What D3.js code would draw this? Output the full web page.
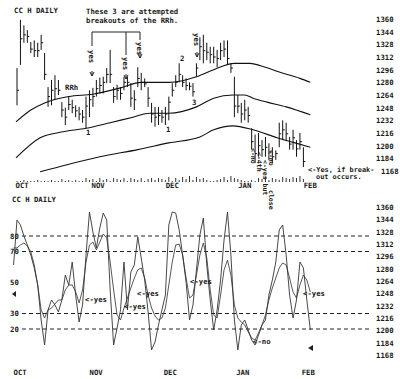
<!DOCTYPE html>
<html><head><meta charset="utf-8">
<script src="https://cdn.jsdelivr.net/npm/d3@7"></script>
<style>
body{margin:0;background:#fff}
svg{display:block}
text{font-family:"DejaVu Sans Mono","Liberation Mono",monospace;font-weight:bold;fill:#1a1a1a;font-size:7.3px}
</style>
</head><body><svg id="c" width="400" height="379"></svg>
<script>
// ---- data ----
const title = "CC H DAILY";
const months = ["OCT","NOV","DEC","JAN","FEB"];
const monthIdx = [1.5, 23.5, 45, 66, 85];
const priceTicks = [1360,1344,1328,1312,1296,1280,1264,1248,1232,1216,1200,1184,1168];
const oscTicks = [80,70,50,30,20];
const oscDashed = [80,70,30,20];

const highs = [1298,1359,1352,1346,1331,1333,1330,1340,1317,1274,1283,1289,1283,1255,1248,1262,1258,1251,1249,1245,1262,1270,1273,1283,1286,1287,1298,1321,1274,1277,1274,1287,1287,1279,1270,1299,1292,1285,1274,1254,1249,1249,1245,1249,1262,1279,1289,1304,1289,1285,1280,1279,1304,1337,1340,1330,1325,1325,1321,1330,1333,1333,1304,1287,1264,1254,1258,1249,1222,1214,1216,1207,1211,1203,1198,1194,1229,1232,1229,1211,1220,1207,1216,1198];
const lows = [1251,1302,1330,1330,1317,1312,1312,1321,1283,1249,1251,1258,1264,1236,1226,1245,1241,1236,1232,1229,1222,1236,1249,1262,1266,1266,1279,1279,1254,1258,1258,1270,1274,1249,1245,1274,1270,1274,1249,1229,1224,1226,1229,1226,1232,1262,1274,1280,1274,1270,1270,1262,1287,1308,1304,1308,1304,1304,1299,1308,1312,1302,1292,1236,1241,1229,1232,1229,1195,1178,1186,1186,1186,1182,1178,1182,1198,1207,1207,1195,1195,1186,1195,1173];
const closes = [1270,1335,1340,1338,1322,1320,1320,1330,1290,1262,1270,1272,1270,1245,1236,1252,1248,1244,1240,1236,1250,1258,1262,1272,1276,1280,1290,1290,1262,1270,1266,1280,1280,1260,1258,1285,1280,1278,1260,1240,1236,1238,1236,1240,1255,1270,1280,1290,1280,1276,1275,1268,1298,1325,1320,1318,1315,1312,1310,1320,1322,1310,1298,1250,1250,1240,1245,1238,1205,1190,1200,1195,1198,1192,1186,1190,1215,1220,1215,1202,1210,1196,1205,1180];
const volume = [1,1,2,1,1,1,2,1,1,1,2,1,1,3,1,2,1,2,1,1,4,2,3,1,4,2,3,1,4,3,2,4,1,4,3,2,4,1,3,4,2,4,3,2,5,1,4,2,5,3,6,2,5,3,4,2,1,1,2,3,5,2,6,4,3,2,1,1,2,1,4,3,5,2,4,3,2,5,4,3,5,4,6,3];

const maUpperIdx = [-0.3,4,8,15,22,30,36,44,52,57,63,67.5,72,76,82,85];
const maUpper    = [1230,1245,1254,1262,1265,1273,1280,1280,1287,1296,1304,1304,1299,1293,1285,1280];
const maMidIdx   = [-0.3,6.7,12.5,20,27,33.6,38.5,44,52,57,62.6,66,68.4,72.5,78,85];
const maMid      = [1184.5,1210,1217,1222,1229,1236,1241,1241,1249,1260,1264,1264,1260,1255,1249,1239];
const maLowIdx   = [6.7,14.5,24,35,44,53,57,62.6,68.4,75.4,80.6,85];
const maLow      = [1167,1176,1186,1195,1203.5,1211,1220,1225,1220,1210,1203.5,1198];

const oscStart = -1;
const oscFast = [61.3,90.3,87.1,80,74.2,67.7,59.4,48.4,25.8,9.7,32.3,38.7,35.5,31,38.7,54.8,48.4,63.2,41.9,24.5,35.5,67.7,95.5,82.6,72.3,85.2,94.8,90.3,45.2,9.7,20.6,32.3,63.2,32.3,56.8,61.3,79.4,65.8,51.6,31,6.5,11.6,22.6,32.3,41.9,87.1,95.5,94.8,83.9,67.7,50.3,25.8,35.5,58.1,80.6,91.6,61.3,38.7,19.4,32.3,51.6,77.4,95.5,67.7,25.8,6.5,22.6,25.8,19.4,12.9,9.7,16.1,22.6,25.8,41.9,51.6,63.2,83.9,87.1,67.7,41.9,27.1,38.7,63.2,59.4,38.7,19.4];
const oscSlow = [72.3,72.3,74.2,75.5,73.5,69.7,61.3,48.4,32.3,27.1,32.3,33.5,36.1,38.7,38.7,45.2,48.4,48.4,43.9,36.8,45.2,63.2,74.2,76.1,71,76.1,81.3,78.7,63.2,45.2,29,25.8,33.5,40,46.5,52.9,58.1,59.4,52.9,41.9,33.5,28.4,25.8,27.1,33.5,48.4,63.2,74.2,74.8,67.7,52.9,40,41.9,54.8,67.7,75.5,65.8,45.2,29,27.1,41.9,58.1,64.5,54.8,35.5,27.1,24.5,22.6,18.1,14.2,12.9,17.4,22.6,29,38.7,46.5,52.9,59.4,62.6,61.3,52.9,43.9,40,48.4,54.8,51.6,43.9];

// ---- layout ----
const svg = d3.select("#c");
const x = d3.scaleLinear().domain([0, 83]).range([17, 303.4]);
const yTop = d3.scaleLinear().domain([1168, 1360]).range([171, 19]);
const yBotPrice = d3.scaleLinear().domain([1168, 1360]).range([355, 207]);
const yOsc = d3.scaleLinear().domain([0, 100]).range([360, 205]);
const yVol = d3.scaleLinear().domain([0, 6]).range([182, 176]);

// titles
svg.append("text").attr("x", 14).attr("y", 13).text(title);
svg.append("text").attr("x", 12).attr("y", 202).text(title);

// price axes (right)
const gt = svg.append("g").attr("transform", "translate(376,0)")
  .call(d3.axisRight(yTop).tickValues(priceTicks).tickSize(0).tickPadding(0).tickFormat(d3.format("d")));
const gb = svg.append("g").attr("transform", "translate(376,0)")
  .call(d3.axisRight(yBotPrice).tickValues(priceTicks).tickSize(0).tickPadding(0).tickFormat(d3.format("d")));
[gt, gb].forEach(g => { g.select(".domain").remove(); g.selectAll("text").attr("font-size", null).attr("font-family", null).attr("fill", null); });
// lowest top label sits after the "break-" note
gt.selectAll(".tick").filter(d => d === 1168).select("text").attr("x", 5);

// volume ticks
svg.append("g").selectAll("line").data(volume).join("line")
  .attr("x1", (d, i) => x(i)).attr("x2", (d, i) => x(i))
  .attr("y1", yVol(0)).attr("y2", d => yVol(d))
  .attr("stroke", "#333").attr("stroke-width", 1);

// month labels
svg.append("g").selectAll("text").data(months).join("text")
  .attr("x", (d, i) => x(monthIdx[i])).attr("y", 188).attr("text-anchor", "middle").text(d => d);
svg.append("g").selectAll("text").data(months).join("text")
  .attr("x", (d, i) => x(monthIdx[i]) - 2).attr("y", 375).attr("text-anchor", "middle").text(d => d);

// moving average curves
const maLine = d3.line().curve(d3.curveMonotoneX).x(d => x(d[0])).y(d => yTop(d[1]));
[[maUpperIdx, maUpper], [maMidIdx, maMid], [maLowIdx, maLow]].forEach(([ix, v]) => {
  svg.append("path").datum(ix.map((d, i) => [d, v[i]])).attr("d", maLine)
    .attr("fill", "none").attr("stroke", "#111").attr("stroke-width", 1.1);
});

// price bars
const bars = svg.append("g").attr("stroke", "#111").attr("stroke-width", 1);
highs.forEach((h, i) => {
  bars.append("line").attr("x1", x(i)).attr("x2", x(i)).attr("y1", yTop(h)).attr("y2", yTop(lows[i]));
  bars.append("line").attr("x1", x(i)).attr("x2", x(i) + 2).attr("y1", yTop(closes[i])).attr("y2", yTop(closes[i]));
});

// annotations top
svg.append("text").attr("x", 86).attr("y", 14).text("These 3 are attempted");
svg.append("text").attr("x", 86).attr("y", 23).text("breakouts of the RRh.");
svg.append("path").attr("d", "M92,46V32H140V40M126,32V55").attr("fill", "none").attr("stroke", "#222").attr("stroke-width", 1);
const vtext = (px, py, t, fs) => svg.append("text").attr("transform", `translate(${px},${py}) rotate(90)`).attr("dy", "0.35em").style("font-size", fs ? fs + "px" : null).text(t);
vtext(92, 50, "yes"); vtext(126, 57, "yes"); vtext(140, 42, "yes"); vtext(197, 33, "yes");
const arrowDown = (px, py) => svg.append("path").attr("d", `M${px - 2},${py - 4}L${px},${py}L${px + 2},${py - 4}M${px},${py - 5}V${py}`).attr("fill", "none").attr("stroke", "#222");
arrowDown(92, 76); arrowDown(126, 79); arrowDown(140, 58); arrowDown(197, 57);
svg.append("text").attr("x", 65).attr("y", 90).text("RRh");
svg.append("text").attr("x", 86).attr("y", 135).text("1");
svg.append("text").attr("x", 166).attr("y", 132).text("1");
svg.append("text").attr("x", 180).attr("y", 61).text("2");
svg.append("text").attr("x", 192).attr("y", 105).text("3");
svg.append("text").attr("x", 308).attr("y", 172).style("font-size", "6.9px").text("<-Yes, if break-");
svg.append("text").attr("x", 316).attr("y", 179).style("font-size", "6.9px").text("out occurs.");
vtext(253, 148, "<-no", 6.5); vtext(259, 152, "<-4th", 6.5); vtext(265, 160, "<-yes but", 6.5);
vtext(271, 150, "<-no", 6.5); vtext(271, 190, "close", 6.5);

// oscillator dashed levels
svg.append("g").selectAll("line").data(oscDashed).join("line")
  .attr("x1", 22).attr("x2", 372).attr("y1", d => yOsc(d)).attr("y2", d => yOsc(d))
  .attr("stroke", "#222").attr("stroke-width", 1).attr("stroke-dasharray", "4,3");
svg.append("g").selectAll("text").data(oscTicks).join("text")
  .attr("x", 10).attr("y", d => yOsc(d)).attr("dy", "0.35em").text(d => d);

// oscillator lines
const oscLine = d3.line().x((d, i) => x(i + oscStart)).y(d => yOsc(d));
svg.append("path").datum(oscSlow).attr("d", oscLine).attr("fill", "none").attr("stroke", "#444").attr("stroke-width", 0.9);
svg.append("path").datum(oscFast).attr("d", oscLine).attr("fill", "none").attr("stroke", "#333").attr("stroke-width", 0.9);

// oscillator notes
svg.append("text").attr("x", 85).attr("y", 302).text("<-yes");
svg.append("text").attr("x", 137).attr("y", 296).text("<-yes");
svg.append("text").attr("x", 124).attr("y", 309).text("<-yes");
svg.append("text").attr("x", 190).attr("y", 284).text("<-yes");
svg.append("text").attr("x", 253).attr("y", 344).text("<-no");
svg.append("text").attr("x", 303).attr("y", 296).text("<-yes");
svg.append("path").attr("d", "M12,294L16,291V297Z").attr("fill", "#222");
svg.append("path").attr("d", "M308,348L313,345V351Z").attr("fill", "#222");
</script></body></html>
